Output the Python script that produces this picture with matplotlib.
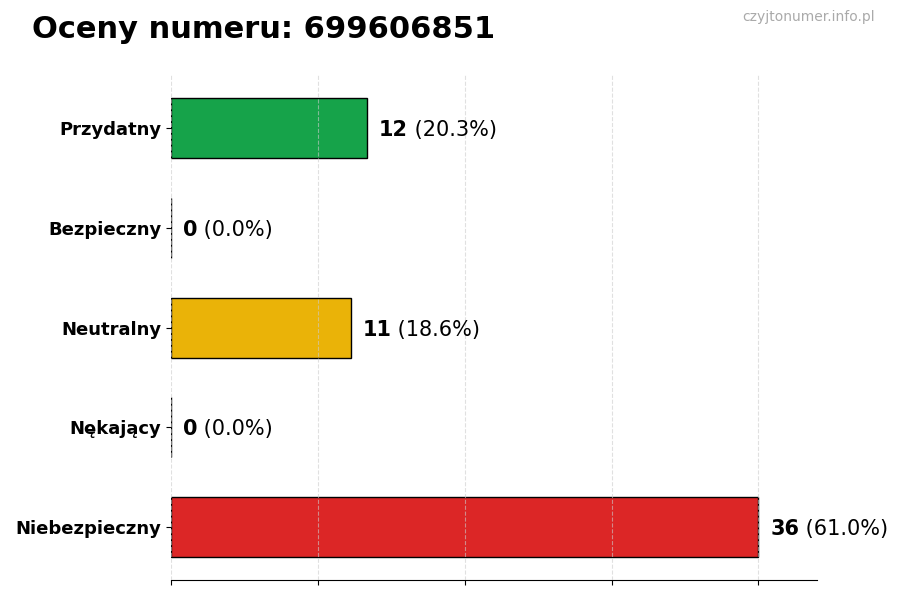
import matplotlib
matplotlib.use("Agg")
import matplotlib.pyplot as plt
import numpy as np

categories = ['Przydatny', 'Bezpieczny', 'Neutralny', 'Nękający', 'Niebezpieczny']
counts = [12, 0, 11, 0, 36]
colors = ['#16a34a', '#22c55e', '#eab308', '#f97316', '#dc2626']

total = sum(counts)
y = np.arange(len(categories))[::-1]

fig = plt.figure(figsize=(9, 6), dpi=100)
ax = fig.add_axes([0.19, 0.033, 0.718, 0.842])

ax.barh(y, counts, height=0.6, color=colors, edgecolor='black', linewidth=1, zorder=2)

ax.set_yticks(y)
ax.set_yticklabels(categories, fontsize=13, fontweight='bold')
ax.set_xlim(0, max(counts) * 1.1)
ax.set_xticks(np.arange(0, 37, 9))
ax.set_xticklabels([])
# grid sits on top of the bars in the original, but faint
ax.grid(axis='x', linestyle='--', color='#cccccc', linewidth=0.8, alpha=0.6, zorder=3)
ax.set_axisbelow(False)

for side in ['top', 'right', 'left']:
    ax.spines[side].set_visible(False)

off = max(counts) * 0.02
for yi, c in zip(y, counts):
    t = ax.text(c + off, yi, str(c), fontsize=15, fontweight='bold', va='center_baseline', ha='left')
    ax.annotate(' (%.1f%%)' % (100.0 * c / total), xy=(1, 0), xycoords=t,
                va='bottom', ha='left', fontsize=15)

fig.text(0.035, 0.95, 'Oceny numeru: 699606851', fontsize=22, fontweight='bold', va='center')
fig.text(0.972, 0.972, 'czyjtonumer.info.pl', fontsize=10, color='#aaaaaa', ha='right', va='center')

fig.savefig('out.png', dpi=100)
